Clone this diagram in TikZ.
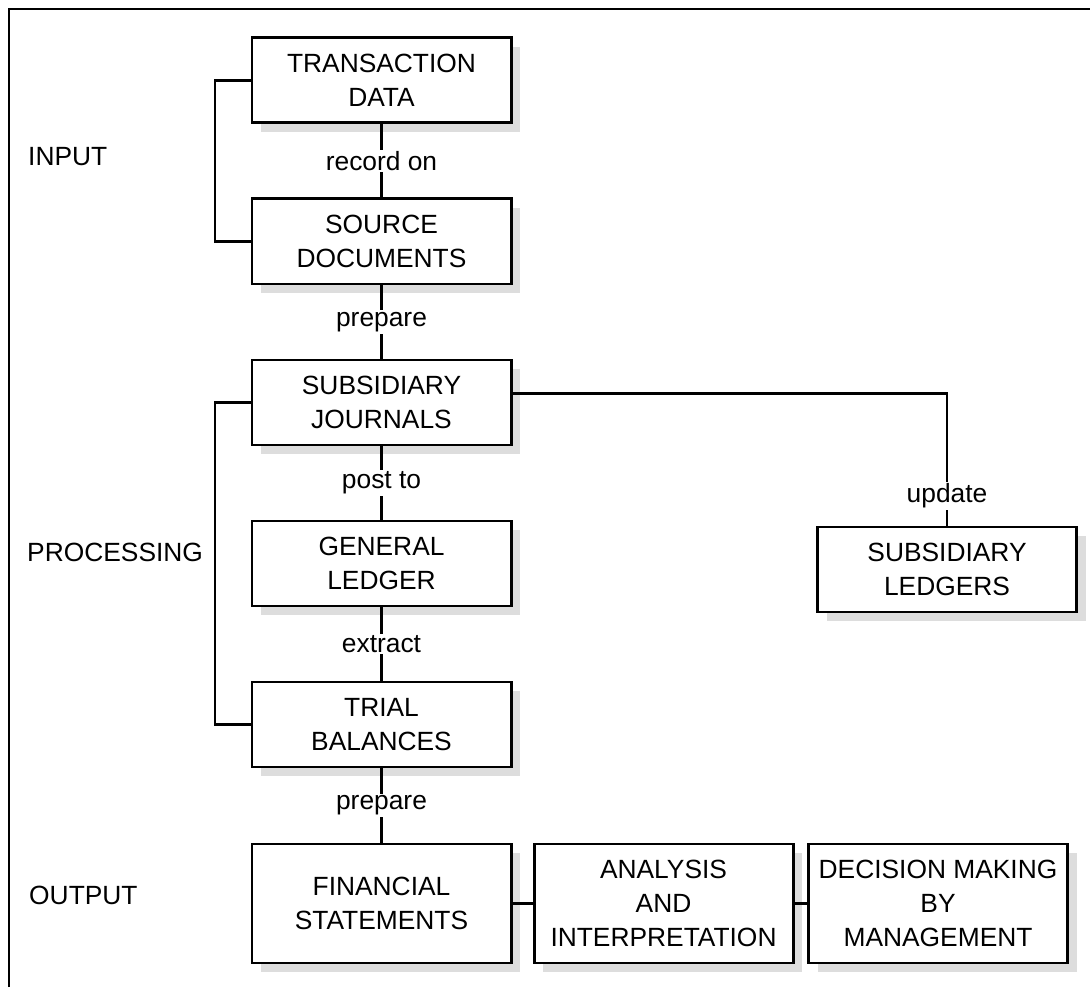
\documentclass[tikz,border=0pt]{standalone}
\usepackage{fontspec}
\setmainfont{Liberation Sans}
\usetikzlibrary{shadows}
\definecolor{shade}{RGB}{221,221,221}

\begin{document}
\begin{tikzpicture}[line width=1.4pt,
  every node/.style={font=\fontsize{15}{19.4}\selectfont},
  stage/.style={draw, line width=1.7pt, fill=white, align=center, inner sep=2pt,
    minimum width=5.18cm, minimum height=1.7cm,
    drop shadow={shadow xshift=0.18cm, shadow yshift=-0.18cm, fill=shade, opacity=1}},
  tall/.style={stage, minimum height=2.38cm},
  verb/.style={fill=white, inner sep=1pt},
  phase/.style={anchor=west, inner sep=0pt}]
\useasboundingbox (0,0) rectangle (21.8,19.74);
% frame
\draw (0.18,0) -- (0.18,19.56) -- (21.8,19.56);

% phase labels
\node[phase] (input) at (0.54,16.60) {INPUT};
\node[phase] (processing) at (0.52,8.70) {PROCESSING};
\node[phase] (output) at (0.56,1.84) {OUTPUT};

% main column
\node[stage] (td) at (7.63,18.13) {TRANSACTION\\DATA};
\node[stage] (sd) at (7.63,14.91) {SOURCE\\DOCUMENTS};
\node[stage] (sj) at (7.63,11.69) {SUBSIDIARY\\JOURNALS};
\node[stage] (gl) at (7.63,8.47) {GENERAL\\LEDGER};
\node[stage] (tb) at (7.63,5.25) {TRIAL\\BALANCES};
\node[stage] (sl) at (18.94,8.35) {SUBSIDIARY\\LEDGERS};

% output row
\node[tall] (fs) at (7.63,1.67) {FINANCIAL\\STATEMENTS};
\node[tall] (ai) at (13.27,1.67) {ANALYSIS\\AND\\INTERPRETATION};
\node[tall] (dm) at (18.76,1.67) {DECISION MAKING\\BY\\MANAGEMENT};

% links down the column
\draw (td) -- node[verb] {record on} (sd);
\draw (sd) -- node[verb] {prepare} (sj);
\draw (sj) -- node[verb] {post to} (gl);
\draw (gl) -- node[verb] {extract} (tb);
\draw (tb) -- node[verb] {prepare} (fs);
\draw ([yshift=0.18cm]sj.east) -| node[verb, pos=0.887] {update} (sl.north);
\draw (fs) -- (ai);
\draw (ai) -- (dm);

% brackets
\draw (td.west) -- ++(-0.71,0) |- (sd.west);
\draw (sj.west) -- ++(-0.71,0) |- (tb.west);
\end{tikzpicture}
\end{document}
